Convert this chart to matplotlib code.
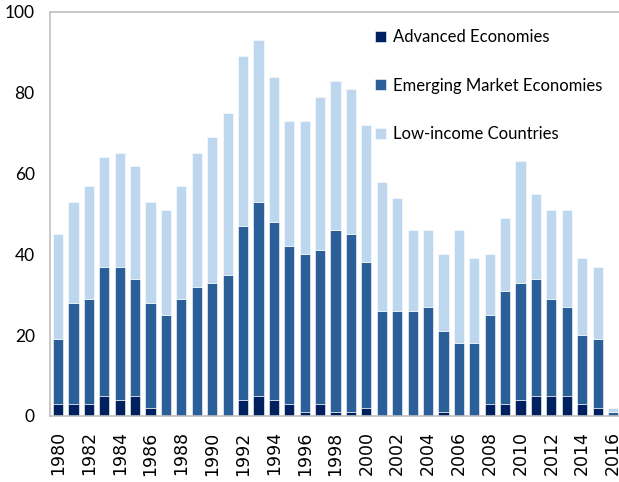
import matplotlib
matplotlib.use("Agg")
import matplotlib.pyplot as plt
import numpy as np

# Daten
years = list(range(1980, 2017))
advanced = [3, 3, 3, 5, 4, 5, 2, 0, 0, 0, 0, 0, 4, 5, 4, 3, 1, 3, 1, 1,
            2, 0, 0, 0, 0, 1, 0, 0, 3, 3, 4, 5, 5, 5, 3, 2, 0]
em_top = [19, 28, 29, 37, 37, 34, 28, 25, 29, 32, 33, 35, 47, 53, 48, 42, 40, 41, 46, 45,
          38, 26, 26, 26, 27, 21, 18, 18, 25, 31, 33, 34, 29, 27, 20, 19, 1]
totals = [45, 53, 57, 64, 65, 62, 53, 51, 57, 65, 69, 75, 89, 93, 84, 73, 73, 79, 83, 81,
          72, 58, 54, 46, 46, 40, 46, 39, 40, 49, 63, 55, 51, 51, 39, 37, 2]
emerging = [t - a for t, a in zip(em_top, advanced)]
low_income = [t - e for t, e in zip(totals, em_top)]

series_names = ["Advanced Economies", "Emerging Market Economies", "Low-income Countries"]
colors = ["#002060", "#2B5F99", "#BDD7EE"]

fig = plt.figure(figsize=(6.19, 4.82), dpi=100)
ax = fig.add_axes([50 / 619, 1 - 416 / 482, 570 / 619, 404 / 482])

x = np.arange(len(years))
w = 0.66
bottom = np.zeros(len(years))
for vals, c, lab in zip([advanced, emerging, low_income], colors, series_names):
    ax.bar(x, vals, w, bottom=bottom, color=c, edgecolor="white", linewidth=0.4, label=lab)
    bottom += np.array(vals)

ax.set_xlim(-0.52, 36.45)
ax.set_ylim(0, 100)
ax.set_yticks(range(0, 101, 20))
ax.set_yticklabels([str(v) for v in range(0, 101, 20)], fontfamily="Lato", fontsize=12.5)
ax.set_xticks(x[::2])
ax.set_xticklabels([str(y) for y in years[::2]], rotation=90, fontfamily="DejaVu Sans", fontsize=12.5)
ax.tick_params(length=0)
ax.tick_params(axis="x", pad=11)
ax.tick_params(axis="y", pad=11)
for s in ax.spines.values():
    s.set_color("#BFBFBF")
    s.set_linewidth(1.2)
ax.spines["right"].set_visible(False)

# Legende oben rechts, Position wie im Original
ax.legend(loc="upper left", bbox_to_anchor=(375 / 619, 1 - 29 / 482),
          bbox_transform=fig.transFigure, frameon=False,
          prop={"family": "Lato", "size": 12}, handlelength=0.65, handleheight=0.65,
          labelspacing=1.95, handletextpad=0.45, borderpad=0, borderaxespad=0)

fig.savefig("out.png", dpi=100)
